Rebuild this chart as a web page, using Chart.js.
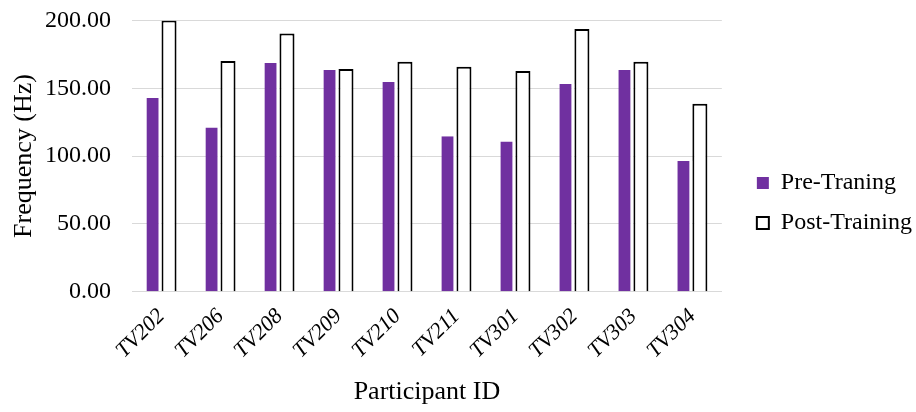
<!DOCTYPE html>
<html>
<head>
<meta charset="utf-8">
<script src="https://cdn.jsdelivr.net/npm/chart.js@4/dist/chart.umd.min.js"></script>
<style>
  html, body { margin: 0; padding: 0; background: #fff; }
  #wrap { width: 916px; height: 412px; }
</style>
</head>
<body>
<div id="wrap"><canvas id="myChart" width="916" height="412"></canvas></div>
<script>
const participants = ['TV202', 'TV206', 'TV208', 'TV209', 'TV210', 'TV211', 'TV301', 'TV302', 'TV303', 'TV304'];
const preTraining = [142.8, 121.1, 168.6, 163.5, 154.6, 114.6, 110.7, 153.1, 163.5, 96.4];
const postTraining = [200.0, 170.1, 190.3, 164.2, 169.6, 165.9, 162.7, 193.6, 169.6, 138.5];
const yTicks = [0, 50, 100, 150, 200];

const serif = "'Liberation Serif', 'Times New Roman', serif";

// nudge the legend a bit to the right, like the Excel original
const legendShift = {
    id: 'legendShift',
    afterLayout(chart) {
        const lg = chart.legend;
        lg.left += 19;
        lg.right += 19;
        lg.top -= 5;
        lg.bottom -= 5;
    }
};

const ctx = document.getElementById('myChart').getContext('2d');
new Chart(ctx, {
    type: 'bar',
    data: {
        labels: participants,
        datasets: [{
            label: 'Pre-Traning',
            data: preTraining,
            backgroundColor: '#7030a0',
            borderColor: '#ffffff',
            borderWidth: { left: 0, right: 3, top: 0, bottom: 0 },
            borderSkipped: false
        }, {
            label: 'Post-Training',
            data: postTraining,
            backgroundColor: '#ffffff',
            borderColor: '#000000',
            borderWidth: 2
        }]
    },
    plugins: [legendShift],
    options: {
        responsive: false,
        animation: false,
        datasets: {
            bar: { categoryPercentage: 0.51, barPercentage: 1.0 }
        },
        layout: { padding: { left: 9, top: 8, right: 13, bottom: 4 } },
        plugins: {
            tooltip: { enabled: false },
            legend: {
                position: 'right',
                labels: {
                    color: '#000',
                    font: { family: serif, size: 24 },
                    boxWidth: 12,
                    boxHeight: 12,
                    padding: 16,
                    generateLabels: function(chart) {
                        return chart.data.datasets.map(function(ds, i) {
                            return {
                                text: ds.label,
                                fillStyle: ds.backgroundColor,
                                strokeStyle: i === 0 ? ds.backgroundColor : '#000',
                                lineWidth: i === 0 ? 0 : 2,
                                fontColor: '#000',
                                datasetIndex: i,
                                hidden: false
                            };
                        });
                    }
                }
            }
        },
        scales: {
            x: {
                grid: { display: false },
                border: { display: true, color: '#d9d9d9', width: 1 },
                ticks: {
                    color: '#000',
                    font: { family: serif, size: 22, style: 'italic' },
                    minRotation: 45,
                    maxRotation: 45,
                    padding: 4
                },
                title: {
                    display: true,
                    text: 'Participant ID',
                    color: '#000',
                    font: { family: serif, size: 26 },
                    padding: { top: 9, bottom: 0 }
                }
            },
            y: {
                min: 0,
                max: 200,
                afterBuildTicks: function(axis) {
                    axis.ticks = yTicks.map(function(v) { return { value: v }; });
                },
                afterFit: function(axis) {
                    axis.width = 123;
                },
                grid: { color: '#d9d9d9', lineWidth: 1, drawTicks: true, tickLength: 15, tickColor: 'rgba(0,0,0,0)' },
                border: { display: false },
                ticks: {
                    color: '#000',
                    font: { family: serif, size: 24 },
                    padding: 6,
                    callback: function(value) { return Number(value).toFixed(2); }
                },
                title: {
                    display: true,
                    text: 'Frequency (Hz)',
                    color: '#000',
                    font: { family: serif, size: 26 },
                    padding: { top: 0, bottom: 4 }
                }
            }
        }
    }
});
</script>
</body>
</html>
